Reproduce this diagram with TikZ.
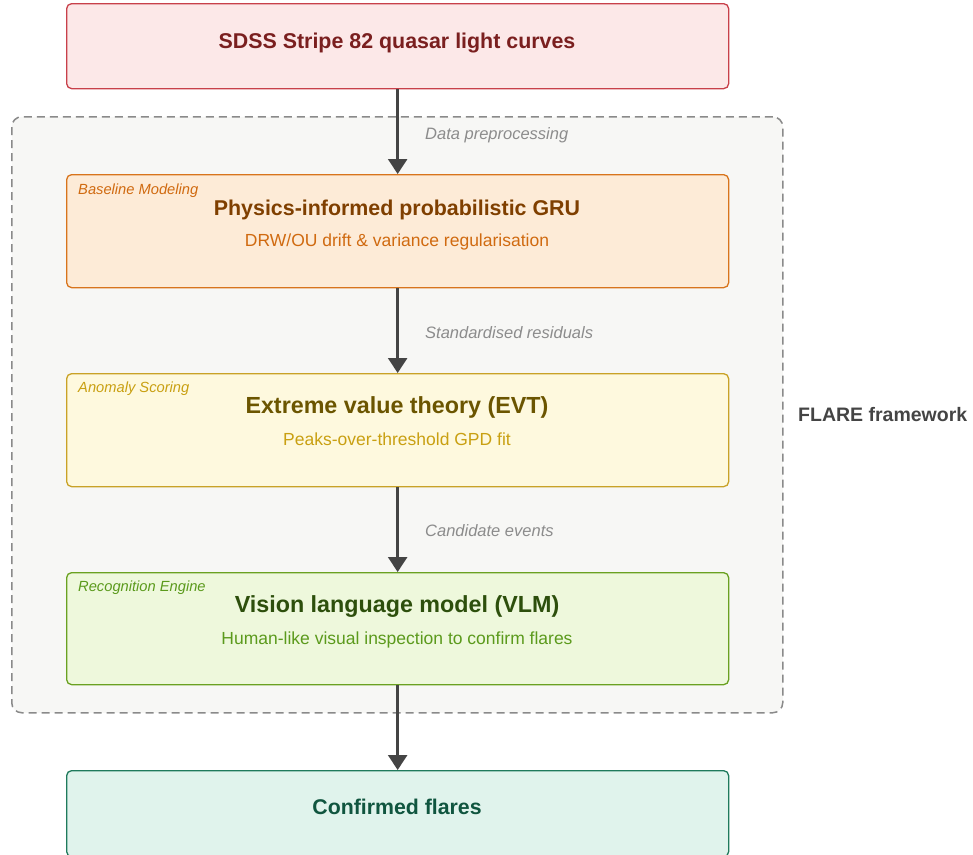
\documentclass[tikz,border=0pt]{standalone}
\usepackage{fontspec}
\setmainfont{Liberation Sans}
\usetikzlibrary{arrows.meta}
\definecolor{redline}{HTML}{C8404A}
\definecolor{redfill}{HTML}{FCE8E8}
\definecolor{redtext}{HTML}{7A1F1F}
\definecolor{orline}{HTML}{D8741C}
\definecolor{orfill}{HTML}{FDEBD7}
\definecolor{ortitle}{HTML}{7F3F00}
\definecolor{ortext}{HTML}{D06A10}
\definecolor{yeline}{HTML}{C9A227}
\definecolor{yefill}{HTML}{FEF9DE}
\definecolor{yetitle}{HTML}{6B5500}
\definecolor{yetext}{HTML}{C9A012}
\definecolor{grline}{HTML}{6AA121}
\definecolor{grfill}{HTML}{EEF8DC}
\definecolor{grtitle}{HTML}{2D4F0C}
\definecolor{grtext}{HTML}{5B9A1C}
\definecolor{teline}{HTML}{1F7A5C}
\definecolor{tefill}{HTML}{E0F3EC}
\definecolor{tetitle}{HTML}{10553F}
\definecolor{frfill}{HTML}{F7F7F5}
\definecolor{frline}{HTML}{8A8A8A}
\definecolor{arrowc}{HTML}{444444}
\definecolor{edgec}{HTML}{8C8C8C}
\tikzset{
  box/.style={draw, line width=1.3pt, rounded corners=5pt, anchor=north west, minimum width=662pt, inner sep=0pt},
  titletext/.style={anchor=base, inner sep=0pt, font=\bfseries\fontsize{#1}{#1}\selectfont},
  subtext/.style={anchor=base, inner sep=0pt, font=\fontsize{17.5}{17.5}\selectfont},
  tagtext/.style={anchor=base west, inner sep=0pt, font=\itshape\fontsize{14.7}{14.7}\selectfont},
  edgelabel/.style={anchor=base west, inner sep=0pt, text=edgec, font=\itshape\fontsize{16.5}{16.5}\selectfont},
  flow/.style={draw=arrowc, line width=2.5pt, -{Triangle[width=19pt,length=15pt]}}
}
\begin{document}
\begin{tikzpicture}[x=1pt,y=-1pt]
\useasboundingbox (0,0) rectangle (973,854);
% container
\node[draw=frline, fill=frfill, line width=1.5pt, dash pattern=on 8pt off 5pt, rounded corners=10pt, anchor=north west, minimum width=771pt, minimum height=596pt, inner sep=0pt] (frame) at (11,116) {};
\node[anchor=base west, inner sep=0pt, text=arrowc, font=\bfseries\fontsize{19.5}{19.5}\selectfont] (framelabel) at (798,421.7) {FLARE framework};
% boxes
\node[box, draw=redline, fill=redfill, minimum height=85pt] (src) at (66,3) {};
\node[box, draw=orline, fill=orfill, minimum height=113pt] (gru) at (66,174) {};
\node[box, draw=yeline, fill=yefill, minimum height=113pt] (evt) at (66,373) {};
\node[box, draw=grline, fill=grfill, minimum height=112pt] (vlm) at (66,572) {};
\node[box, draw=teline, fill=tefill, minimum height=86pt] (out) at (66,770) {};
% texts
\node[titletext=21.4, text=redtext] (srct) at (397,48.3) {SDSS Stripe 82 quasar light curves};
\node[tagtext, text=ortext] (grutag) at (78,194) {Baseline Modeling};
\node[titletext=21.4, text=ortitle] (grut) at (397,215) {Physics-informed probabilistic GRU};
\node[subtext, text=ortext] (grus) at (397,246.7) {DRW/OU drift \& variance regularisation};
\node[tagtext, text=yetext] (evttag) at (78,392.3) {Anomaly Scoring};
\node[titletext=23.3, text=yetitle] (evtt) at (397,413.3) {Extreme value theory (EVT)};
\node[subtext, text=yetext] (evts) at (397,445) {Peaks-over-threshold GPD fit};
\node[tagtext, text=grtext] (vlmtag) at (78,591) {Recognition Engine};
\node[titletext=23.3, text=grtitle] (vlmt) at (397,612.3) {Vision language model (VLM)};
\node[subtext, text=grtext] (vlms) at (397,644) {Human-like visual inspection to confirm flares};
\node[titletext=21.3, text=tetitle] (outt) at (397,814) {Confirmed flares};
% arrows
\draw[flow] (src.south) -- (gru.north);
\draw[flow] (gru.south) -- (evt.north);
\draw[flow] (evt.south) -- (vlm.north);
\draw[flow] (vlm.south) -- (out.north);
% edge labels
\node[edgelabel] (e1) at (425,139.3) {Data preprocessing};
\node[edgelabel] (e2) at (425,338) {Standardised residuals};
\node[edgelabel] (e3) at (425,536.7) {Candidate events};
\end{tikzpicture}
\end{document}
